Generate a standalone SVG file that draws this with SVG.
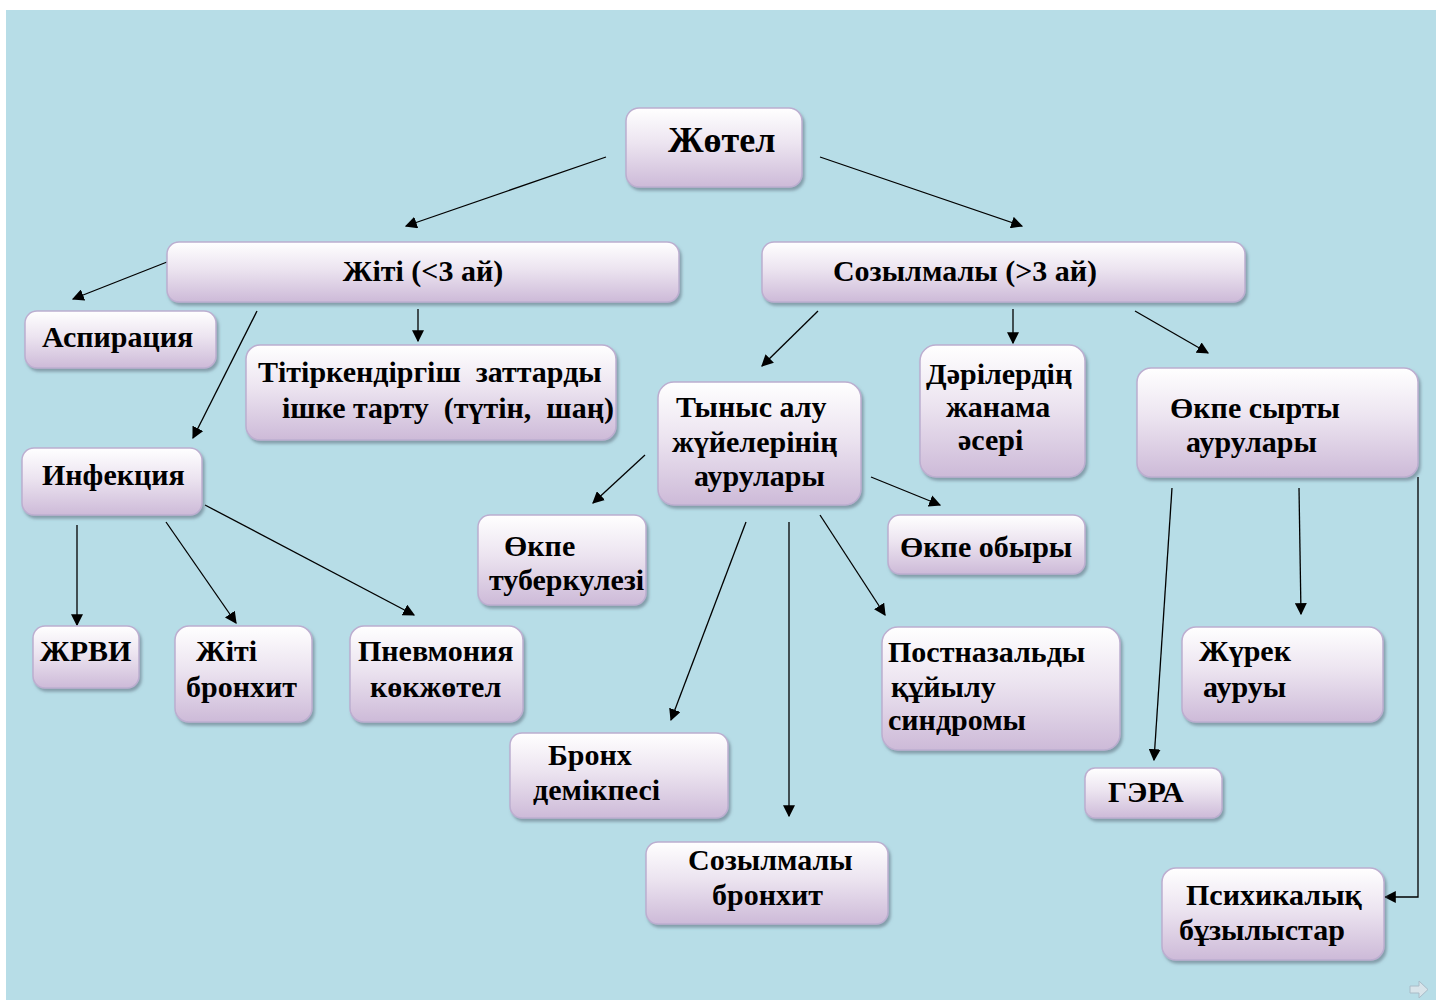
<svg xmlns="http://www.w3.org/2000/svg" width="1436" height="1000" viewBox="0 0 1436 1000">
<defs>
<linearGradient id="g" x1="0" y1="0" x2="0" y2="1">
<stop offset="0" stop-color="#ffffff"/>
<stop offset="0.45" stop-color="#ece4f0"/>
<stop offset="1" stop-color="#cdbad8"/>
</linearGradient>
<filter id="sh" x="-10%" y="-10%" width="125%" height="130%">
<feDropShadow dx="2" dy="3" stdDeviation="1.8" flood-color="#5a6a7a" flood-opacity="0.55"/>
</filter>
<marker id="ah" viewBox="0 0 10 10" refX="9" refY="5" markerWidth="12" markerHeight="12" markerUnits="userSpaceOnUse" orient="auto">
<path d="M0,0 L10,5 L0,10 Z" fill="#000"/>
</marker>
<style>
.b{fill:url(#g);stroke:#bcaed0;stroke-width:1.5;filter:url(#sh)}
.t{font-family:"Liberation Serif","Times New Roman",serif;font-weight:bold;font-size:30px;fill:#000;white-space:pre}
.c line,.c polyline{stroke:#000;stroke-width:1.3;fill:none;marker-end:url(#ah)}
</style>
</defs>
<rect x="0" y="0" width="1436" height="1000" fill="#ffffff"/>
<rect x="6" y="10" width="1430" height="990" fill="#b7dde7"/>

<g class="c" id="connectors">
<line x1="606" y1="157" x2="406" y2="226"/>
<line x1="820" y1="157" x2="1022" y2="226"/>
<line x1="167" y1="262" x2="73" y2="299"/>
<line x1="257" y1="311" x2="193" y2="438"/>
<line x1="418" y1="309" x2="418" y2="341"/>
<line x1="818" y1="311" x2="762" y2="366"/>
<line x1="1013" y1="309" x2="1013" y2="343"/>
<line x1="1135" y1="311" x2="1208" y2="353"/>
<line x1="645" y1="455" x2="593" y2="503"/>
<line x1="871" y1="477" x2="940" y2="505"/>
<line x1="746" y1="522" x2="671" y2="720"/>
<line x1="789" y1="522" x2="789" y2="816"/>
<line x1="820" y1="515" x2="885" y2="615"/>
<line x1="77" y1="525" x2="77" y2="625"/>
<line x1="166" y1="522" x2="236" y2="623"/>
<line x1="205" y1="505" x2="414" y2="615"/>
<line x1="1172" y1="488" x2="1154" y2="760"/>
<line x1="1299" y1="488" x2="1301" y2="614"/>
<polyline points="1418,477 1418,897 1385,897"/>
</g>

<g id="n1"><rect class="b" x="626" y="108" width="176" height="79" rx="13"/><text class="t" x="668" y="152" style="font-size:36px">Жөтел</text></g>
<g id="n2"><rect class="b" x="167" y="242" width="512" height="60" rx="12"/><text class="t" x="423" y="281" text-anchor="middle">Жіті (&lt;3 ай)</text></g>
<g id="n3"><rect class="b" x="762" y="242" width="483" height="60" rx="12"/><text class="t" x="965" y="281" text-anchor="middle">Созылмалы (&gt;3 ай)</text></g>
<g id="n4"><rect class="b" x="25" y="311" width="191" height="57" rx="12"/><text class="t" x="42" y="347">Аспирация</text></g>
<g id="n5"><rect class="b" x="246" y="345" width="370" height="95" rx="14"/><text class="t" x="258" y="382" xml:space="preserve">Тітіркендіргіш  заттарды</text><text class="t" x="282" y="418" xml:space="preserve">ішке тарту  (түтін,  шаң)</text></g>
<g id="n6"><rect class="b" x="22" y="448" width="180" height="67" rx="12"/><text class="t" x="42" y="485">Инфекция</text></g>
<g id="n7"><rect class="b" x="658" y="382" width="203" height="123" rx="16"/><text class="t" x="676" y="417">Тыныс алу</text><text class="t" x="672" y="452">жүйелерінің</text><text class="t" x="694" y="486">аурулары</text></g>
<g id="n8"><rect class="b" x="920" y="345" width="165" height="132" rx="16"/><text class="t" x="926" y="384">Дәрілердің</text><text class="t" x="946" y="417">жанама</text><text class="t" x="958" y="450">әсері</text></g>
<g id="n9"><rect class="b" x="1137" y="368" width="281" height="109" rx="14"/><text class="t" x="1170" y="418">Өкпе сырты</text><text class="t" x="1186" y="452">аурулары</text></g>
<g id="n10"><rect class="b" x="478" y="515" width="168" height="90" rx="12"/><text class="t" x="504" y="556">Өкпе</text><text class="t" x="489" y="590">туберкулезі</text></g>
<g id="n11"><rect class="b" x="888" y="515" width="197" height="59" rx="12"/><text class="t" x="900" y="557">Өкпе обыры</text></g>
<g id="n12"><rect class="b" x="33" y="626" width="106" height="62" rx="12"/><text class="t" x="40" y="661">ЖРВИ</text></g>
<g id="n13"><rect class="b" x="175" y="626" width="137" height="96" rx="14"/><text class="t" x="196" y="661">Жіті</text><text class="t" x="186" y="697">бронхит</text></g>
<g id="n14"><rect class="b" x="350" y="626" width="173" height="96" rx="14"/><text class="t" x="358" y="661">Пневмония</text><text class="t" x="370" y="697">көкжөтел</text></g>
<g id="n15"><rect class="b" x="882" y="627" width="238" height="123" rx="16"/><text class="t" x="888" y="662">Постназальды</text><text class="t" x="891" y="697">құйылу</text><text class="t" x="888" y="730">синдромы</text></g>
<g id="n16"><rect class="b" x="1182" y="627" width="201" height="95" rx="14"/><text class="t" x="1199" y="661">Жүрек</text><text class="t" x="1203" y="697">ауруы</text></g>
<g id="n17"><rect class="b" x="510" y="733" width="218" height="85" rx="12"/><text class="t" x="548" y="765">Бронх</text><text class="t" x="533" y="800">демікпесі</text></g>
<g id="n18"><rect class="b" x="1085" y="768" width="137" height="50" rx="10"/><text class="t" x="1108" y="802">ГЭРА</text></g>
<g id="n19"><rect class="b" x="646" y="842" width="242" height="82" rx="12"/><text class="t" x="688" y="870">Созылмалы</text><text class="t" x="712" y="905">бронхит</text></g>
<g id="n20"><rect class="b" x="1162" y="868" width="222" height="92" rx="14"/><text class="t" x="1186" y="905">Психикалық</text><text class="t" x="1179" y="940">бұзылыстар</text></g>

<g id="navArrow"><path d="M1410,986 L1419,986 L1419,981 L1428,989.5 L1419,998 L1419,993 L1410,993 Z" fill="#d8e4ea" stroke="#a9bcc8" stroke-width="1"/></g>
</svg>
